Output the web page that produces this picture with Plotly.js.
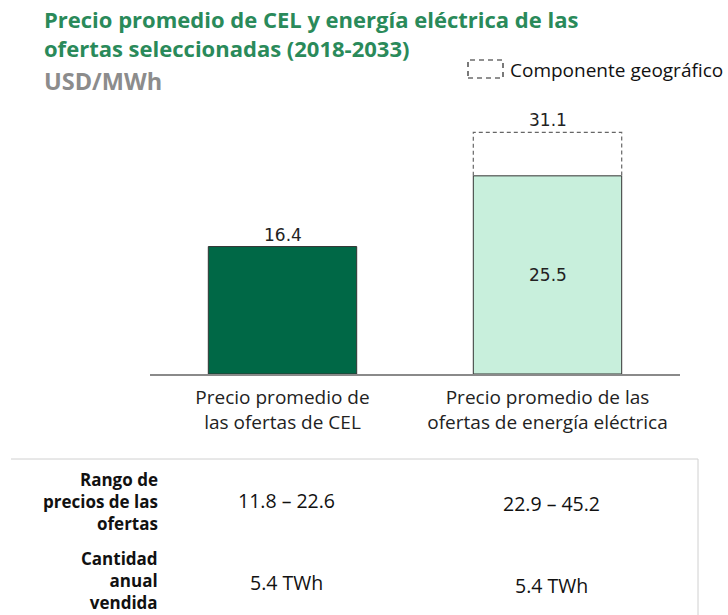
<!DOCTYPE html>
<html><head><meta charset="utf-8">
<script src="https://cdn.plot.ly/plotly-3.0.1.min.js"></script>
<style>html,body{margin:0;padding:0;background:#fff}#chart{width:728px;height:615px}</style>
</head><body><div id="chart"></div>
<script>
// ---- data ----
const categories = ["Precio promedio de<br>las ofertas de CEL", "Precio promedio de las<br>ofertas de energía eléctrica"];
const baseValues = [16.4, 25.5];
const totalValues = [null, 31.1];
const barColors = ["#006846", "#C8EFDC"];
const rowLabels = ["Rango de<br>precios de las<br>ofertas", "Cantidad<br>anual<br>vendida"];
const rangeRow = ["11.8 – 22.6", "22.9 – 45.2"];
const qtyRow = ["5.4 TWh", "5.4 TWh"];
const legendLabel = "Componente geográfico";
const unitLabel = "USD/MWh";
const titleText = "Precio promedio de CEL y energía eléctrica de las<br>ofertas seleccionadas (2018-2033)";

// ---- build ----
const W = 728, H = 615;
const PL = 150, PR = 680, PT = 100, PB = 374;
const xIdx = categories.map((_, i) => i);
const barWidth = 0.56;

const px2x = p => (p - PL) / (PR - PL);
const py2y = p => (PB - p) / (PB - PT);

const traces = [{
  type: "bar",
  x: xIdx,
  y: baseValues,
  width: barWidth,
  marker: {color: barColors, line: {color: "#333", width: 1}},
  hoverinfo: "skip",
  showlegend: false
}];

// dashed outline of geographic component
totalValues.forEach((t, i) => {
  if (t == null) return;
  const x0 = i - barWidth / 2, x1 = i + barWidth / 2;
  traces.push({
    type: "scatter", mode: "lines",
    x: [x0, x0, x1, x1],
    y: [baseValues[i], t, t, baseValues[i]],
    line: {color: "#666", width: 1.2, dash: "4px,3px"},
    hoverinfo: "skip", showlegend: false
  });
});

const annotations = [];
const labelFont = {family: "DejaVu Sans", size: 17, color: "#222"};
baseValues.forEach((v, i) => {
  if (totalValues[i] == null) {
    annotations.push({x: i, y: v, xref: "x", yref: "y", text: v.toFixed(1), showarrow: false, yanchor: "bottom", font: labelFont});
  } else {
    annotations.push({x: i, y: v / 2, xref: "x", yref: "y", text: v.toFixed(1), showarrow: false, yanchor: "middle", font: labelFont});
    annotations.push({x: i, y: totalValues[i], xref: "x", yref: "y", text: totalValues[i].toFixed(1), showarrow: false, yanchor: "bottom", font: labelFont});
  }
});

// title
annotations.push({xref: "paper", yref: "paper", x: px2x(43), y: py2y(33.5), xanchor: "left", yanchor: "middle", align: "left", borderpad: 0, text: "<b>" + titleText + "</b>", showarrow: false, font: {family: "Open Sans", size: 22, color: "#2A8A5A"}});
// unit label
annotations.push({xref: "paper", yref: "paper", x: px2x(43), y: py2y(81), xanchor: "left", yanchor: "middle", borderpad: 0, text: "<b>" + unitLabel + "</b>", showarrow: false, font: {family: "Open Sans", size: 23.5, color: "#8C8C8C"}});
// legend text
annotations.push({xref: "paper", yref: "paper", x: px2x(508), y: py2y(70), xanchor: "left", yanchor: "middle", text: legendLabel, showarrow: false, font: {family: "Open Sans", size: 19, color: "#111"}});

// table
const labelTableFont = {family: "Open Sans", size: 17, color: "#111"};
const valueFont = {family: "Open Sans", size: 19.5, color: "#111"};
const rowCenterY = [502, 580];
const valueY = [[500, 503], [582, 585]];
[rangeRow, qtyRow].forEach((row, r) => {
  annotations.push({xref: "paper", yref: "paper", x: px2x(159), y: py2y(rowCenterY[r]), xanchor: "right", yanchor: "middle", align: "right", borderpad: 0, text: "<b>" + rowLabels[r] + "</b>", showarrow: false, font: labelTableFont});
  row.forEach((v, i) => {
    annotations.push({xref: "x", yref: "paper", x: i, y: py2y(valueY[r][i]), xanchor: "center", yanchor: "middle", xshift: 4, text: v, showarrow: false, font: valueFont});
  });
});

const shapes = [
  // legend box
  {type: "rect", xref: "paper", yref: "paper", x0: px2x(468), x1: px2x(503), y0: py2y(78), y1: py2y(60), line: {color: "#222", width: 1.2, dash: "5px,4px"}, fillcolor: "rgba(0,0,0,0)"},
  // table border
  {type: "line", xref: "paper", yref: "paper", x0: px2x(11), x1: px2x(698), y0: py2y(459), y1: py2y(459), line: {color: "#D0D0D0", width: 1}},
  {type: "line", xref: "paper", yref: "paper", x0: px2x(698), x1: px2x(698), y0: py2y(459), y1: py2y(620), line: {color: "#D0D0D0", width: 1}}
];

const layout = {
  width: W, height: H,
  margin: {l: PL, r: W - PR, t: PT, b: H - PB},
  paper_bgcolor: "#fff", plot_bgcolor: "#fff",
  xaxis: {range: [-0.5, 1.5], tickvals: xIdx, ticktext: categories, showline: true, linecolor: "#8A8A8A", linewidth: 1.5, ticks: "", showgrid: false, zeroline: false, ticklabelstandoff: 6, tickfont: {family: "Open Sans", size: 19, color: "#222"}, fixedrange: true},
  yaxis: {range: [0, 35.26], visible: false, showgrid: false, zeroline: false, fixedrange: true},
  showlegend: false,
  annotations: annotations,
  shapes: shapes,
  bargap: 0
};

Plotly.newPlot("chart", traces, layout, {displayModeBar: false, staticPlot: true});
</script></body></html>
